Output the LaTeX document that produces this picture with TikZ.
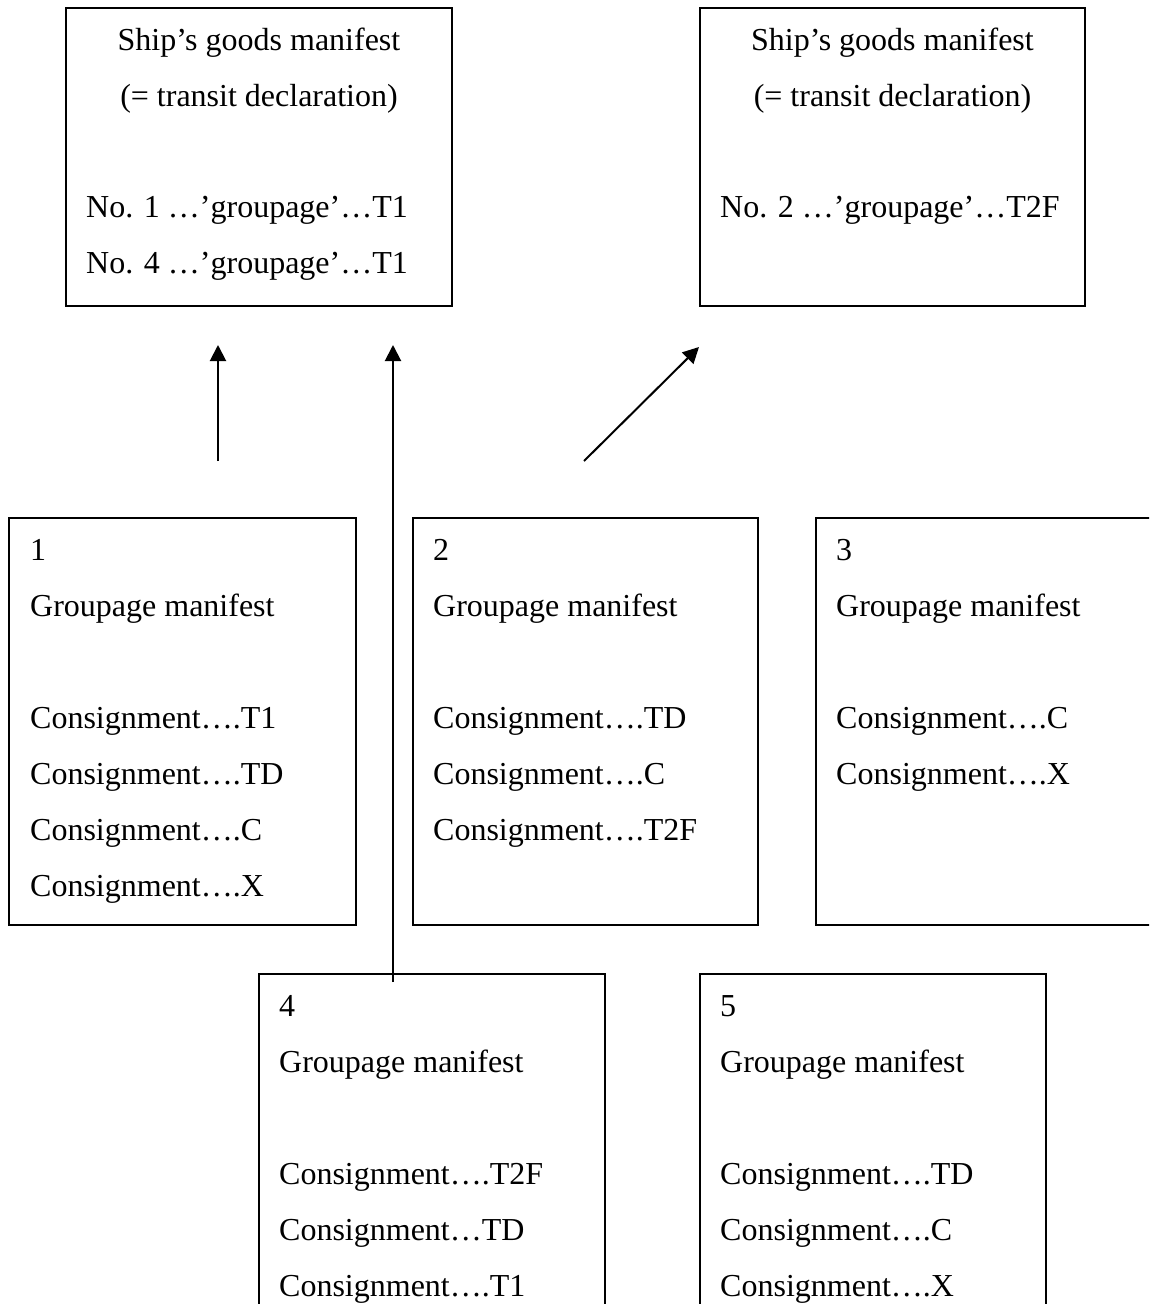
\documentclass[tikz,border=0pt]{standalone}
\usepackage{fontspec}
\setmainfont{Liberation Serif}
\usetikzlibrary{arrows.meta, positioning}

\begin{document}
\begin{tikzpicture}[x=1pt, y=-1pt,
    box/.style={draw, line width=2pt, anchor=north west, inner sep=0pt},
    txt/.style={font=\fontsize{32}{56}\selectfont, inner sep=0pt, align=left, anchor=north west},
    flow/.style={-{Triangle[length=16pt, width=16pt]}, line width=2pt}]
                % Page frame
                \clip (0,0) rectangle (1149,1304);

                % Ship's goods manifests
                \node[box, minimum width=386pt, minimum height=298pt] (ship1) at (65,7) {};
                \node[txt, anchor=north, align=center] (ship1t) at ([yshift=-21pt]ship1.north) {Ship’s goods manifest\\(= transit declaration)};
                \node[txt] (ship1n) at ([xshift=21pt, yshift=-189pt]ship1.north west) {No. 1 …’groupage’…T1\\No. 4 …’groupage’…T1};

                \node[box, minimum width=385pt, minimum height=298pt] (ship2) at (699,7) {};
                \node[txt, anchor=north, align=center] (ship2t) at ([yshift=-21pt]ship2.north) {Ship’s goods manifest\\(= transit declaration)};
                \node[txt] (ship2n) at ([xshift=21pt, yshift=-189pt]ship2.north west) {No. 2 …’groupage’…T2F};

                % Groupage manifests
                \node[box, minimum width=347pt, minimum height=407pt] (grp1) at (8,517) {};
                \node[txt] (grp1t) at ([xshift=22pt, yshift=-22pt]grp1.north west) {1\\Groupage manifest\\[56pt]Consignment….T1\\Consignment….TD\\Consignment….C\\Consignment….X};

                \node[box, minimum width=345pt, minimum height=407pt] (grp2) at (412,517) {};
                \node[txt] (grp2t) at ([xshift=21pt, yshift=-22pt]grp2.north west) {2\\Groupage manifest\\[56pt]Consignment….TD\\Consignment….C\\Consignment….T2F};

                \node[box, minimum width=360pt, minimum height=407pt] (grp3) at (815,517) {};
                \node[txt] (grp3t) at ([xshift=21pt, yshift=-22pt]grp3.north west) {3\\Groupage manifest\\[56pt]Consignment….C\\Consignment….X};

                \node[box, minimum width=346pt, minimum height=380pt] (grp4) at (258,973) {};
                \node[txt] (grp4t) at ([xshift=21pt, yshift=-22pt]grp4.north west) {4\\Groupage manifest\\[56pt]Consignment….T2F\\Consignment…TD\\Consignment….T1};

                \node[box, minimum width=346pt, minimum height=380pt] (grp5) at (699,973) {};
                \node[txt] (grp5t) at ([xshift=21pt, yshift=-22pt]grp5.north west) {5\\Groupage manifest\\[56pt]Consignment….TD\\Consignment….C\\Consignment….X};

                % Arrows
                \coordinate (a1s) at (218,461);
                \coordinate (a1e) at (218,345);
                \coordinate (a2s) at ([xshift=135pt, yshift=-9pt]grp4.north west);
                \coordinate (a2e) at (393,345);
                \coordinate (a3s) at (584,461);
                \coordinate (a3e) at ([yshift=-40pt]ship2.south west);
                \draw[flow] (a1s) -- (a1e);
                \draw[flow] (a2s) -- (a2e);
                \draw[flow] (a3s) -- (a3e);
\end{tikzpicture}
\end{document}
